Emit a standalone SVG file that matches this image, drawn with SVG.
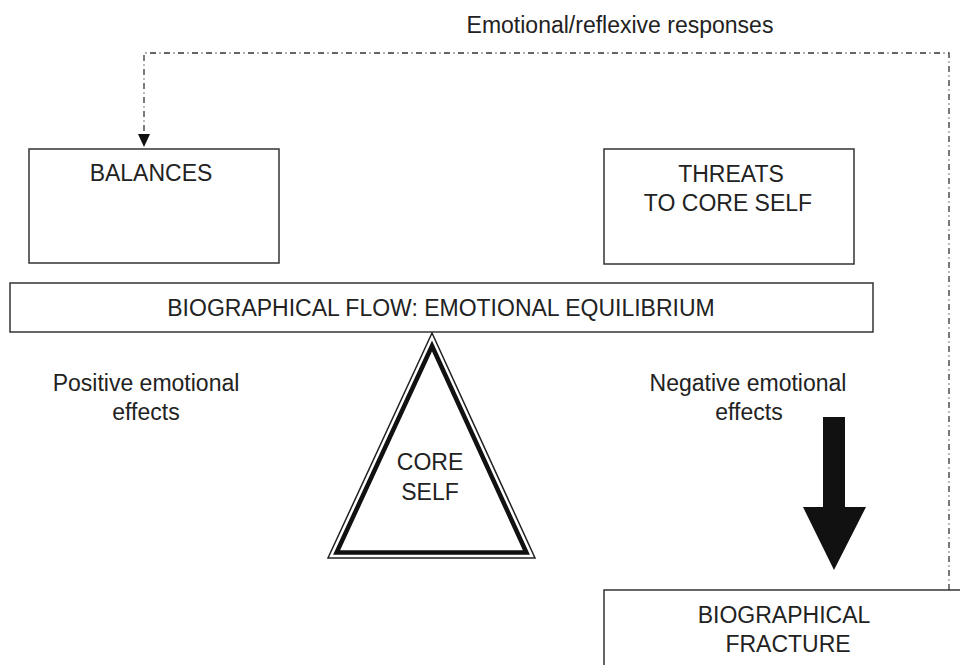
<svg xmlns="http://www.w3.org/2000/svg" width="960" height="665" viewBox="0 0 960 665">
<defs>
<style>
.box{fill:#fff;stroke:#333;stroke-width:1.5}
.t{font-family:"Liberation Sans",Arial,sans-serif;font-size:23px;fill:#222;text-anchor:middle}
.dd{fill:none;stroke:#333;stroke-width:1.3;stroke-dasharray:6 3.5 1 3.5}
</style>
<marker id="ah" markerWidth="12" markerHeight="13" refX="6" refY="12" orient="auto-start-reverse" markerUnits="userSpaceOnUse" viewBox="0 0 12 13">
<path d="M0,0 L12,0 L6,12 Z" fill="#111" transform="rotate(-90 6 6.5) translate(0 0)"/>
</marker>
</defs>
<rect width="960" height="665" fill="#fff"/>
<g id="connectors">
<polyline class="dd" points="949,590 949,53 144,53 144,134"/>
<path d="M138,134 L150,134 L144,147 Z" fill="#111"/>
</g>
<g id="balances">
<rect class="box" x="29" y="149" width="250" height="114"/>
<text class="t" x="151" y="181">BALANCES</text>
</g>
<g id="threats">
<rect class="box" x="604" y="149" width="250" height="115"/>
<text class="t" x="731" y="182">THREATS</text>
<text class="t" x="728" y="211">TO CORE SELF</text>
</g>
<g id="flow">
<rect class="box" x="10" y="283" width="863" height="49"/>
<text class="t" x="441" y="316">BIOGRAPHICAL FLOW: EMOTIONAL EQUILIBRIUM</text>
</g>
<g id="core-self">
<polygon points="432,333 328,558 535,558" fill="#fff" stroke="#222" stroke-width="1.5" stroke-linejoin="miter"/>
<polygon points="432,346 336.6,552.5 526.4,552.5" fill="#fff" stroke="#111" stroke-width="4.5" stroke-linejoin="miter"/>
<text class="t" x="430" y="470">CORE</text>
<text class="t" x="430" y="500">SELF</text>
</g>
<g id="positive">
<text class="t" x="146" y="391">Positive emotional</text>
<text class="t" x="146" y="420">effects</text>
</g>
<g id="negative">
<text class="t" x="748" y="391">Negative emotional</text>
<text class="t" x="749" y="420">effects</text>
<polygon points="823,417 845,417 845,507 866,507 834,570 803,507 823,507" fill="#111"/>
</g>
<g id="fracture">
<rect class="box" x="604" y="590" width="370" height="90"/>
<text class="t" x="784" y="623">BIOGRAPHICAL</text>
<text class="t" x="788" y="652">FRACTURE</text>
</g>
<g id="top-label">
<text class="t" x="620" y="33">Emotional/reflexive responses</text>
</g>
</svg>
